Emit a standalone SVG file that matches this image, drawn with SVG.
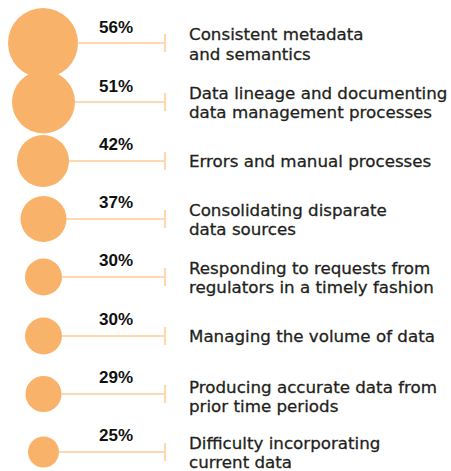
<svg xmlns="http://www.w3.org/2000/svg" width="451" height="471" viewBox="0 0 451 471">
<style>
.bub{fill:#f8b26a}
.ln{stroke:#fdd8b0;stroke-width:2.2;fill:none}
.pct{font-family:"Liberation Sans",Arial,sans-serif;font-weight:bold;font-size:17px;fill:#111;text-anchor:middle}
.lbl{font-family:"DejaVu Sans","Noto Sans",sans-serif;font-size:16.7px;fill:#231f20;stroke:#231f20;stroke-width:0.3}
</style>
<rect width="451" height="471" fill="#fff"/>
<g id="connectors">
<path class="ln" d="M78 43H165M165 34V52"/>
<path class="ln" d="M74 102H165M165 93V111"/>
<path class="ln" d="M69 161H165M165 152V170"/>
<path class="ln" d="M66 219H165M165 210V228"/>
<path class="ln" d="M62 277H165M165 268V286"/>
<path class="ln" d="M62 336H165M165 327V345"/>
<path class="ln" d="M61 394H165M165 385V403"/>
<path class="ln" d="M59 452H165M165 443V461"/>
</g>
<g id="n1"><circle class="bub" cx="43" cy="43" r="35"/><text class="pct" x="116" y="33">56%</text><text class="lbl" x="189" y="40">Consistent metadata</text><text class="lbl" x="189" y="59.5">and semantics</text></g>
<g id="n2"><circle class="bub" cx="43.5" cy="102" r="31.5"/><text class="pct" x="116" y="92">51%</text><text class="lbl" x="189" y="98.5">Data lineage and documenting</text><text class="lbl" x="189" y="117.5">data management processes</text></g>
<g id="n3"><circle class="bub" cx="43" cy="161" r="26"/><text class="pct" x="116" y="150">42%</text><text class="lbl" x="189" y="166.5">Errors and manual processes</text></g>
<g id="n4"><circle class="bub" cx="43.5" cy="219" r="23"/><text class="pct" x="116" y="208">37%</text><text class="lbl" x="189" y="216">Consolidating disparate</text><text class="lbl" x="189" y="235">data sources</text></g>
<g id="n5"><circle class="bub" cx="43.5" cy="277" r="18.5"/><text class="pct" x="116" y="266">30%</text><text class="lbl" x="189" y="273.5">Responding to requests from</text><text class="lbl" x="189" y="292.5">regulators in a timely fashion</text></g>
<g id="n6"><circle class="bub" cx="43.5" cy="336" r="18.5"/><text class="pct" x="116" y="324.5">30%</text><text class="lbl" x="189" y="342">Managing the volume of data</text></g>
<g id="n7"><circle class="bub" cx="43.5" cy="394" r="18"/><text class="pct" x="116" y="383">29%</text><text class="lbl" x="189" y="392.5">Producing accurate data from</text><text class="lbl" x="189" y="411.5">prior time periods</text></g>
<g id="n8"><circle class="bub" cx="43.5" cy="452" r="15.5"/><text class="pct" x="116" y="441">25%</text><text class="lbl" x="189" y="449">Difficulty incorporating</text><text class="lbl" x="189" y="468">current data</text></g>
</svg>
